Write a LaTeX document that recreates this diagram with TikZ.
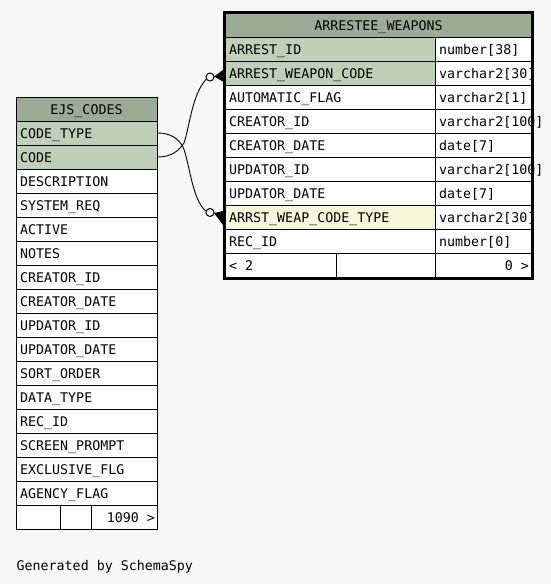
\documentclass[tikz,border=0pt]{standalone}
\usepackage{fontspec}
\setmonofont{DejaVu Sans Mono}
\definecolor{bg}{HTML}{F7F7F7}
\definecolor{hdr}{HTML}{9BAB96}
\definecolor{pk}{HTML}{BED1B8}
\definecolor{idx}{HTML}{F4F7DA}
\tikzset{
  txt/.style={anchor=base west, inner sep=0pt, font=\ttfamily\fontsize{13.3}{16}\selectfont},
  rtxt/.style={txt, anchor=base east},
  ctxt/.style={txt, anchor=base},
  grid/.style={line width=1pt, black},
  thick border/.style={line width=3pt, black},
  link/.style={line width=0.9pt, black},
  optcircle/.style={circle, draw, line width=1pt, fill=bg, minimum size=8pt, inner sep=0pt},
}
\begin{document}
\begin{tikzpicture}[x=1pt, y=-1pt]
\fill[bg] (0,0) rectangle (551,584);
\useasboundingbox (0,0) rectangle (551,584);

% ---------- EJS_CODES ----------
\fill[white] (16,97) rectangle (157,529);
\fill[hdr] (16,97) rectangle (157,121);
\fill[pk] (16,121) rectangle (157,169);
\node[ctxt] (ejs-title) at (86.5,114.3) {EJS\_CODES};
\foreach \n [count=\i from 0] in {CODE\_TYPE,CODE,DESCRIPTION,SYSTEM\_REQ,ACTIVE,NOTES,CREATOR\_ID,CREATOR\_DATE,UPDATOR\_ID,UPDATOR\_DATE,SORT\_ORDER,DATA\_TYPE,REC\_ID,SCREEN\_PROMPT,EXCLUSIVE\_FLG,AGENCY\_FLAG}{
  \node[txt] (ejs-\i) at (20,121+24*\i+17.3) {\n};
  \draw[grid] (16,121+24*\i) -- (157,121+24*\i);
}
\draw[grid] (16,505) -- (157,505);
\draw[grid] (60.5,505) -- (60.5,529);
\draw[grid] (91.5,505) -- (91.5,529);
\node[rtxt] (ejs-foot) at (155,522.3) {1090 >};
\draw[grid] (16.5,97.5) rectangle (157.5,529.5);
\coordinate (ejs-codetype) at (157.5,133);
\coordinate (ejs-code) at (157.5,157);

% ---------- ARRESTEE_WEAPONS ----------
\fill[white] (224,12) rectangle (532,278);
\fill[hdr] (224,12) rectangle (532,37);
\fill[pk] (224,37) rectangle (435,85);
\fill[idx] (224,205) rectangle (435,229);
\node[ctxt] (aw-title) at (378.5,30.3) {ARRESTEE\_WEAPONS};
\foreach \n/\t [count=\i from 0] in {ARREST\_ID/number[38],ARREST\_WEAPON\_CODE/varchar2[30],AUTOMATIC\_FLAG/varchar2[1],CREATOR\_ID/varchar2[100],CREATOR\_DATE/date[7],UPDATOR\_ID/varchar2[100],UPDATOR\_DATE/date[7],ARRST\_WEAP\_CODE\_TYPE/varchar2[30],REC\_ID/number[0]}{
  \node[txt] (aw-\i) at (229,37+24*\i+17.3) {\n};
  \node[txt] (awt-\i) at (439,37+24*\i+17.3) {\t};
  \draw[grid] (224,37+24*\i) -- (532,37+24*\i);
}
\draw[grid] (224,253) -- (532,253);
\draw[grid] (435.5,37) -- (435.5,278);
\draw[grid] (336.5,253) -- (336.5,278);
\node[txt] (aw-footl) at (229,270.3) {< 2};
\node[rtxt] (aw-footr) at (529,270.3) {0 >};
\draw[thick border] (224.5,12.5) rectangle (532.5,278.5);

% ---------- relationships ----------
\node[optcircle] (c1) at (210,77) {};
\node[optcircle] (c2) at (210,212.5) {};
\draw[link] (ejs-code) .. controls (170,157) and (178,152) .. (184,143)
  .. controls (190,125) and (192,95) .. (c1.210);
\draw[link] (ejs-codetype) .. controls (170,133) and (178,138) .. (183,147)
  .. controls (189,160) and (192,200) .. (c2.160);
\fill (214,76.5) -- (223,70) -- (223,81.5) -- cycle;
\fill (214,213) -- (223,211) -- (223,225) -- cycle;

\node[txt] (credit) at (16.5,570) {Generated by SchemaSpy};
\end{tikzpicture}
\end{document}
